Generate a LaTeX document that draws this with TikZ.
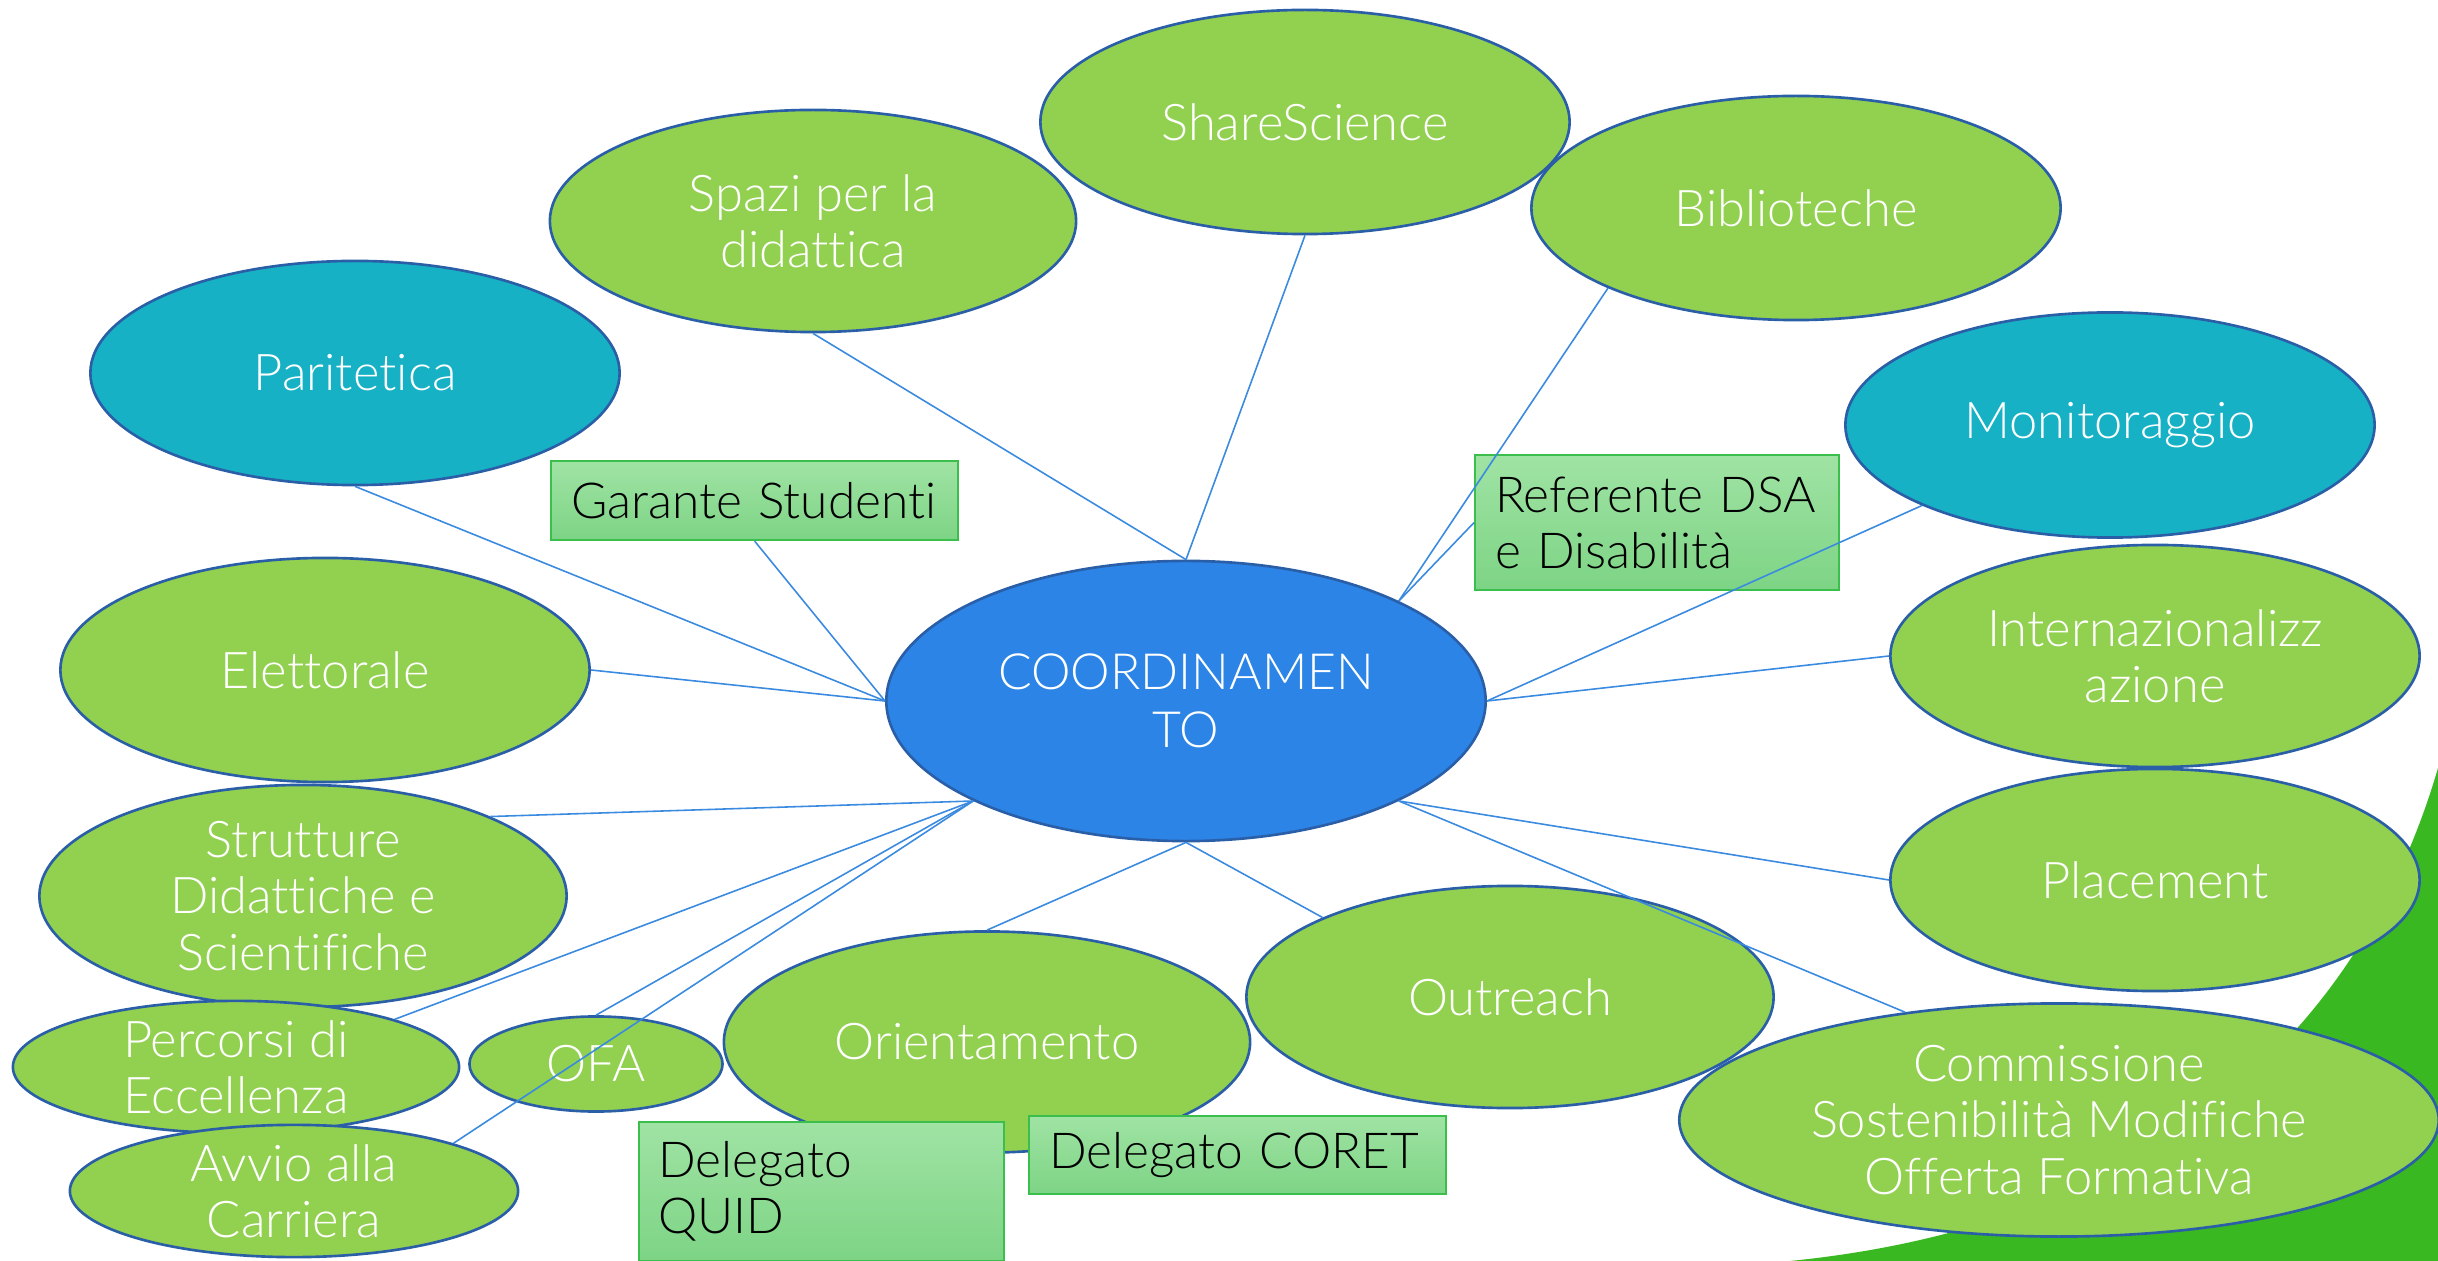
\documentclass[tikz,border=0pt]{standalone}
\usepackage{fontspec}
\setmainfont{Lato Light}[Ligatures=NoCommon]
\usetikzlibrary{shapes.geometric}
\definecolor{gfill}{HTML}{92D050}
\definecolor{eborder}{HTML}{2A5FA8}
\definecolor{tealc}{HTML}{17B1C5}
\definecolor{coordc}{HTML}{2B84E6}
\definecolor{linec}{HTML}{3A8AE0}
\definecolor{bgreen}{HTML}{3AB821}
\definecolor{boxtop}{HTML}{A0E3A4}
\definecolor{boxbot}{HTML}{7DD485}
\definecolor{boxborder}{HTML}{3BBF4C}
\tikzset{
  ell/.style={ellipse, draw=eborder, line width=0.75pt, text=white, align=center, inner sep=0pt,
    font=\fontsize{14.4}{16}\selectfont},
  gell/.style={ell, fill=gfill},
  tell/.style={ell, fill=tealc},
  cell/.style={ell, fill=coordc, font=\fontsize{14.2}{16.4}\selectfont},
  gbox/.style={rectangle, draw=boxborder, line width=0.6pt, top color=boxtop, bottom color=boxbot,
    text=black, align=left, inner xsep=0.2cm, inner ysep=0pt, anchor=north west,
    font=\fontsize{14.1}{16}\selectfont},
  conn/.style={draw=linec, line width=0.45pt}
}
\begin{document}
\begin{tikzpicture}[x=0.01cm,y=-0.01cm]
\useasboundingbox (0,0) rectangle (2438,1261);
% background green shape
\fill[bgreen] (1790,1261) .. controls (2140,1226) and (2357,1045) .. (2438,768) -- (2438,1261) -- cycle;
% ellipses
\node[gell, minimum width=5.29cm, minimum height=2.24cm] (share) at (1305,122) {ShareScience};
\node[gell, minimum width=5.26cm, minimum height=2.22cm] (spazi) at (813,221) {Spazi per la\\didattica};
\node[gell, minimum width=5.29cm, minimum height=2.24cm] (bibl) at (1796,208) {Biblioteche};
\node[tell, minimum width=5.29cm, minimum height=2.24cm] (parit) at (355,373) {Paritetica};
\node[tell, minimum width=5.29cm, minimum height=2.25cm] (monit) at (2110,425) {Monitoraggio};
\node[gell, minimum width=5.29cm, minimum height=2.24cm] (elett) at (325,670) {Elettorale};
\node[gell, minimum width=5.29cm, minimum height=2.22cm] (inter) at (2155,656) {Internazionalizz\\azione};
\node[cell, minimum width=5.99cm, minimum height=2.80cm] (coord) at (1186,701) {COORDINAMEN\\TO};
\node[gell, minimum width=5.27cm, minimum height=2.22cm] (strut) at (303,896) {Strutture\\Didattiche e\\Scientifiche};
\node[gell, minimum width=5.29cm, minimum height=2.22cm] (place) at (2155,880) {Placement};
\node[gell, minimum width=4.46cm, minimum height=1.26cm] (perc) at (236,1067) {Percorsi di\\Eccellenza};
\node[gell, minimum width=2.53cm, minimum height=0.95cm] (ofa) at (596,1064) {OFA};
\node[gell, minimum width=5.26cm, minimum height=2.21cm] (orient) at (987,1042) {Orientamento};
\node[gell, minimum width=5.27cm, minimum height=2.22cm] (outr) at (1510,997) {Outreach};
\node[gell, minimum width=4.48cm, minimum height=1.29cm] (avvio) at (294,1191) {Avvio alla\\Carriera};
\node[gell, minimum width=7.59cm, minimum height=2.33cm] (comm) at (2059,1120) {Commissione\\Sostenibilità Modifiche\\Offerta Formativa};
% boxes
\node[gbox, text width=3.67cm, minimum height=0.79cm] (garante) at (550,460) {Garante Studenti};
\node[gbox, text width=3.24cm, minimum height=1.35cm] (refer) at (1474,454) {Referente DSA\\e Disabilità};
\node[gbox, text width=3.25cm, minimum height=1.385cm] (quid) at (637.5,1121) {Delegato\\QUID};
\node[gbox, text width=3.77cm, minimum height=0.78cm] (coret) at (1028,1115) {Delegato CORET};
% connectors
\draw[conn] (spazi.south) -- (coord.north);
\draw[conn] (share.south) -- (coord.north);
\draw[conn] (bibl.south west) -- (coord.north east);
\draw[conn] (refer.west) -- (coord.north east);
\draw[conn] (monit.south west) -- (coord.east);
\draw[conn] (inter.west) -- (coord.east);
\draw[conn] (place.west) -- (coord.south east);
\draw[conn] (comm.145) -- (coord.south east);
\draw[conn] (outr.north west) -- (coord.south);
\draw[conn] (orient.north) -- (coord.south);
\draw[conn] (avvio.north east) -- (coord.south west);
\draw[conn] (ofa.north) -- (coord.south west);
\draw[conn] (perc.north east) -- (coord.south west);
\draw[conn] (strut.north east) -- (coord.south west);
\draw[conn] (elett.east) -- (coord.west);
\draw[conn] (parit.south) -- (coord.west);
\draw[conn] (garante.south) -- (coord.west);
\end{tikzpicture}
\end{document}
